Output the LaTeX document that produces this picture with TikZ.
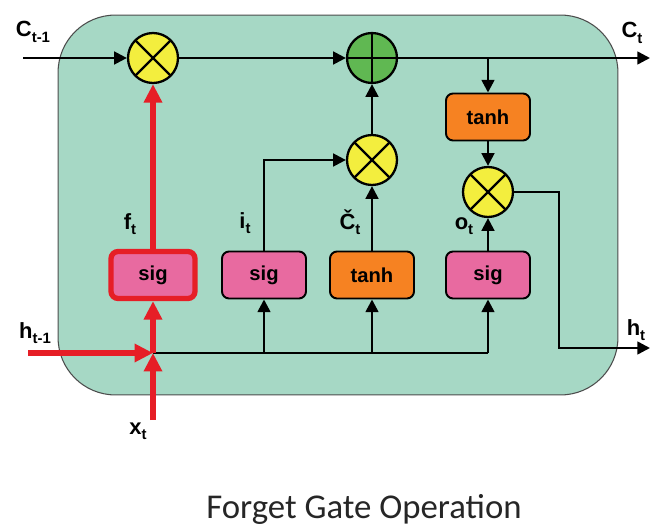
\documentclass[tikz,border=0pt]{standalone}
\usepackage{fontspec}
\setsansfont{Liberation Sans}
\newfontfamily\captionfont{Carlito}
\usepackage{tikz}
\usetikzlibrary{calc,positioning,arrows.meta,shapes.geometric}
\definecolor{cellgreen}{RGB}{166,216,197}
\definecolor{multyellow}{RGB}{243,238,62}
\definecolor{addgreen}{RGB}{96,184,82}
\definecolor{sigpink}{RGB}{232,106,160}
\definecolor{tanhorange}{RGB}{246,130,34}
\definecolor{gatered}{RGB}{230,30,38}
\tikzstyle{gate} = [rectangle, rounded corners=4pt, minimum width=1.68cm, minimum height=0.94cm, draw=black, line width=1.1pt, font=\sffamily\bfseries\fontsize{11.5}{12}\selectfont]
\tikzstyle{arrow} = [line width=1.4pt,->,>={Triangle[length=7.2pt,width=7.2pt]}]
\tikzstyle{redarrow} = [line width=3.8pt,draw=gatered,->,>={Triangle[length=10.5pt,width=10pt]}]
\tikzstyle{line} = [line width=1.4pt]
\newcommand{\sublbl}[2]{#1\raisebox{-0.45ex}{\fontsize{8.5}{9}\selectfont #2}}

\begin{document}
\begin{tikzpicture}[x=0.02cm, y=-0.02cm]
\tikzset{%
	cellbox/.style = {rectangle, draw=black!70, line width=0.6pt, fill=cellgreen, rounded corners=1.15cm, minimum width=11.2cm, minimum height=7.6cm},
	mult/.style = {circle, draw=black, line width=1.3pt, fill=multyellow, minimum size=1cm, inner sep=0pt,
		path picture={\draw [line width=1.3pt] (path picture bounding box.north west) -- (path picture bounding box.south east)
			(path picture bounding box.north east) -- (path picture bounding box.south west);}},
	plus/.style = {circle, draw=black, line width=1.3pt, fill=addgreen, minimum size=1cm, inner sep=0pt,
		path picture={\draw [line width=1.3pt] (path picture bounding box.north) -- (path picture bounding box.south)
			(path picture bounding box.east) -- (path picture bounding box.west);}},
	lbl/.style = {font=\sffamily\bfseries\fontsize{12.5}{13}\selectfont, inner sep=0pt}
}
\useasboundingbox (0,0) rectangle (650,527);

\node(cell) [cellbox] at (338,205) {};

% cell state line
\coordinate (cin) at (23,58);
\coordinate (cout) at (650,58);
\node(fmul) [mult] at (153,58) {};
\node(add) [plus] at (372,58) {};

% gates
\node(fsig) [gate, fill=sigpink, draw=gatered, line width=3pt] at (153,275) {sig};
\node(isig) [gate, fill=sigpink] at (264,275) {sig};
\node(cand) [gate, fill=tanhorange] at (372,275) {tanh};
\node(osig) [gate, fill=sigpink] at (488,275) {sig};

\node(imul) [mult] at (372,160) {};
\node(tanh2) [gate, fill=tanhorange] at (488,117) {tanh};
\node(omul) [mult] at (488,192) {};

% inputs
\coordinate (jct) at (153,353);
\coordinate (hin) at (28,353);
\coordinate (xin) at (153,420);
\coordinate (hout) at (650,348);

% labels
\node(lcin) [lbl] at (33,32) {\sublbl{C}{t-1}};
\node(lcout) [lbl] at (632,33) {\sublbl{C}{t}};
\node(lf) [lbl] at (130,224) {\sublbl{f}{t}};
\node(li) [lbl] at (245,223) {\sublbl{i}{t}};
\node(lc) [lbl] at (350,222) {\sublbl{Č}{t}};
\node(lo) [lbl] at (464,226) {\sublbl{o}{t}};
\node(lhin) [lbl] at (35,333) {\sublbl{h}{t-1}};
\node(lhout) [lbl] at (636,330) {\sublbl{h}{t}};
\node(lx) [lbl] at (138,431) {\sublbl{x}{t}};

\node(title) [anchor=base, text=black!85, font=\captionfont\fontsize{19.8}{20}\selectfont] at (364,518) {Forget Gate Operation};

\draw [arrow] (cin) -- (fmul);
\draw [arrow] (fmul) -- (add);
\draw [arrow] (add) -- (cout);
\draw [arrow] (tanh2.north |- add) -- (tanh2);
\draw [arrow] (tanh2) -- (omul);
\draw [arrow] (omul.east) -- ++(45,0) |- (hout);
\draw [arrow] (isig.north) |- (imul.west);
\draw [arrow] (cand) -- (imul);
\draw [arrow] (imul) -- (add);
\draw [arrow] (osig) -- (omul);
\draw [line] (jct) -- (osig.south |- jct);
\foreach \g in {isig, cand, osig}
	\draw [arrow] (\g.south |- jct) -- (\g.south);

\draw [redarrow] (hin) -- (jct);
\draw [redarrow] (xin) -- (jct);
\draw [redarrow] (jct) -- (fsig);
\draw [redarrow] (fsig) -- (fmul);
\end{tikzpicture}
\end{document}
